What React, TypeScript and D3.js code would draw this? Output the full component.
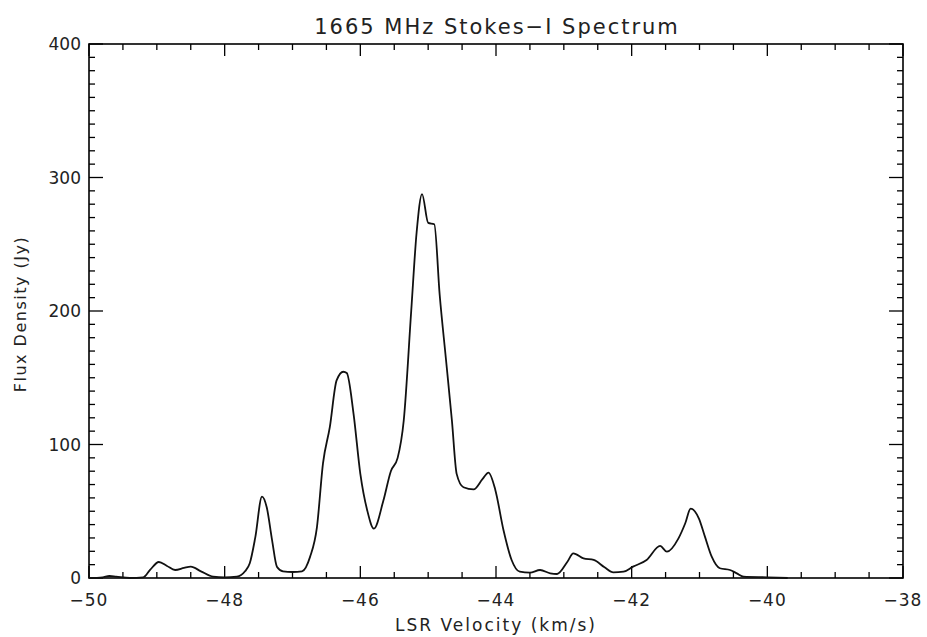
import React from "react";
import * as d3 from "d3";

// LSR velocity (km/s) and Stokes-I flux density (Jy)
const velocity = [
  -50.0, -49.8, -49.7, -49.6, -49.4, -49.2, -49.1, -48.97, -48.85, -48.73,
  -48.6, -48.5, -48.35, -48.17, -48.0, -47.82, -47.7, -47.63, -47.55, -47.45,
  -47.38, -47.3, -47.23, -47.14, -47.0, -46.86, -46.74, -46.64, -46.55, -46.45,
  -46.35, -46.25, -46.2, -46.1, -46.0, -45.9, -45.8, -45.66, -45.55, -45.45,
  -45.36, -45.25, -45.17, -45.09, -45.0, -44.91, -44.83, -44.74, -44.65, -44.58,
  -44.48, -44.33, -44.2, -44.11, -44.01, -43.89, -43.77, -43.65, -43.5, -43.35,
  -43.2, -43.1, -42.95, -42.86, -42.71, -42.56, -42.4, -42.27, -42.12, -41.98,
  -41.78, -41.58, -41.48, -41.31, -41.21, -41.13, -41.01, -40.92, -40.82, -40.7,
  -40.55, -40.45, -40.35, -40.0, -39.7,
];
const flux = [
  0, 0.5, 1.5, 1, 0, 0.5, 6, 12, 9, 6,
  7.5, 8.5, 5, 1, 0.5, 1, 5, 11, 30, 61,
  53, 28, 8.5, 5, 4.5, 5, 16, 38, 86, 113,
  148, 154.5, 153.5, 123, 78, 51, 37, 58, 80, 90,
  118, 200, 259, 287.6, 266, 265, 212, 165, 118, 78,
  68, 66.4, 74, 79, 66, 36, 13.5, 4.7, 4, 6,
  3.5, 3, 12, 18.5, 14.7, 13.5, 8, 4.2, 4.7, 8.5,
  13.5, 24, 19.7, 29.7, 41, 52, 44.7, 31, 16, 7.3,
  6, 3.5, 1, 0.5, 0,
];

const xMajor = [-50, -48, -46, -44, -42, -40, -38];
const yMajor = [0, 100, 200, 300, 400];

const W = 927;
const H = 637;
const left = 89, right = 903, top = 44, bottom = 578;
const font = "'DejaVu Sans', sans-serif";
const ink = "#222";

export default function App() {
  const x = d3.scaleLinear().domain([-50, -38]).range([left, right]);
  const y = d3.scaleLinear().domain([0, 400]).range([bottom, top]);

  const xMinor = d3.range(-50, -38 + 0.001, 0.5).filter((v) => Math.abs(v % 2) > 0.01);
  const yMinor = d3.range(0, 401, 10).filter((v) => v % 100 !== 0);

  const pts = velocity.map((v, i) => [v, flux[i]] as [number, number]);
  const line = d3
    .line<[number, number]>()
    .x((d) => x(d[0]))
    .y((d) => y(d[1]))
    .curve(d3.curveMonotoneX);

  return (
    <div style={{ position: "fixed", left: 0, top: 0 }}>
      <svg width={W} height={H} style={{ display: "block", background: "#fff" }}>
        <text x={497} y={34} textAnchor="middle" fontFamily={font} fontSize={21} letterSpacing={2} fill={ink}>
          1665 MHz Stokes−I Spectrum
        </text>

        {/* frame */}
        <rect x={left} y={top} width={right - left} height={bottom - top} fill="none" stroke="#000" strokeWidth={1.6} />

        {/* x ticks, bottom and top */}
        {xMajor.map((v) => (
          <g key={"xM" + v}>
            <line x1={x(v)} x2={x(v)} y1={bottom} y2={bottom - 12} stroke="#000" strokeWidth={1.3} />
            <line x1={x(v)} x2={x(v)} y1={top} y2={top + 12} stroke="#000" strokeWidth={1.3} />
            <text x={x(v)} y={606} textAnchor="middle" fontFamily={font} fontSize={17} letterSpacing={1} fill={ink}>
              {v < 0 ? "−" + Math.abs(v) : v}
            </text>
          </g>
        ))}
        {xMinor.map((v) => (
          <g key={"xm" + v}>
            <line x1={x(v)} x2={x(v)} y1={bottom} y2={bottom - 6} stroke="#000" strokeWidth={1.3} />
            <line x1={x(v)} x2={x(v)} y1={top} y2={top + 6} stroke="#000" strokeWidth={1.3} />
          </g>
        ))}

        {/* y ticks, left and right */}
        {yMajor.map((v) => (
          <g key={"yM" + v}>
            <line x1={left} x2={left + 14} y1={y(v)} y2={y(v)} stroke="#000" strokeWidth={1.3} />
            <line x1={right} x2={right - 14} y1={y(v)} y2={y(v)} stroke="#000" strokeWidth={1.3} />
            <text x={81} y={y(v) + 6} textAnchor="end" fontFamily={font} fontSize={17} fill={ink}>
              {v}
            </text>
          </g>
        ))}
        {yMinor.map((v) => (
          <g key={"ym" + v}>
            <line x1={left} x2={left + 6} y1={y(v)} y2={y(v)} stroke="#000" strokeWidth={1.3} />
            <line x1={right} x2={right - 6} y1={y(v)} y2={y(v)} stroke="#000" strokeWidth={1.3} />
          </g>
        ))}

        <text x={496} y={631} textAnchor="middle" fontFamily={font} fontSize={17} letterSpacing={2} fill={ink}>
          LSR Velocity (km/s)
        </text>
        <text
          transform="translate(26,314) rotate(-90)"
          textAnchor="middle"
          fontFamily={font}
          fontSize={16}
          letterSpacing={1.5}
          fill={ink}
        >
          Flux Density (Jy)
        </text>

        <path d={line(pts) ?? ""} fill="none" stroke="#111" strokeWidth={1.8} strokeLinejoin="round" />
      </svg>
    </div>
  );
}
